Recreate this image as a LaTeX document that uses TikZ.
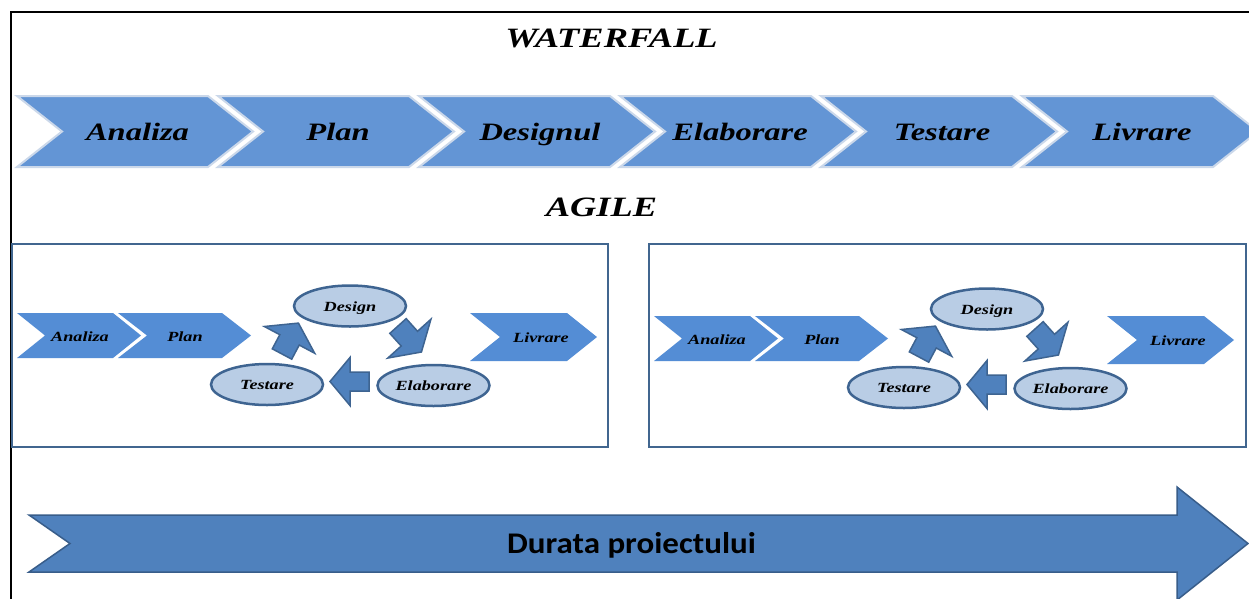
\documentclass[tikz,border=0pt]{standalone}
\usepackage{fontspec}
\newfontfamily\tfont[FakeStretch=1.3]{Liberation Serif}
\newfontfamily\cfont[FakeStretch=1.1]{Carlito}
\usetikzlibrary{shapes.geometric}

\definecolor{wfill}{RGB}{99,149,213}
\definecolor{wedge}{RGB}{203,216,234}
\definecolor{afill}{RGB}{84,141,213}
\definecolor{efill}{RGB}{185,205,229}
\definecolor{edraw}{RGB}{62,100,145}
\definecolor{bfill}{RGB}{79,129,189}
\definecolor{bdraw}{RGB}{56,93,138}
\definecolor{boxc}{RGB}{65,102,143}

% chevron: x0, ytop, ybot, body, depth, style
\newcommand{\mychev}[6]{%
  \path[#6] ({#1},{#2}) -- ({#1+#4},{#2}) -- ({#1+#4+#5},{(#2+#3)/2})
    -- ({#1+#4},{#3}) -- ({#1},{#3}) -- ({#1+#5},{(#2+#3)/2}) -- cycle;}
% block arrow: x, y (shaft end), angle, length, head length, head half width, shaft half width
\newcommand{\blockarrow}[7]{%
  \begin{scope}[shift={(#1,#2)},rotate=#3]
    \path[barrow] (0,{-#7}) -- ({#4-#5},{-#7}) -- ({#4-#5},{-#6}) -- ({#4},0)
      -- ({#4-#5},{#6}) -- ({#4-#5},{#7}) -- (0,{#7}) -- cycle;
  \end{scope}}

\tikzset{
  wchev/.style={fill=wfill, draw=wedge, line width=2},
  achev/.style={fill=afill},
  barrow/.style={fill=bfill, draw=edraw, line width=1.5, line join=miter},
  boxst/.style={draw=boxc, line width=2.5},
  title/.style={font=\tfont\bfseries\itshape\fontsize{28}{34}\selectfont, inner sep=0},
  wlbl/.style={font=\tfont\bfseries\itshape\fontsize{25}{30}\selectfont, anchor=base, inner sep=0},
  albl/.style={font=\tfont\bfseries\itshape\fontsize{14}{17}\selectfont, anchor=base, inner sep=0},
  ell/.style={ellipse, fill=efill, draw=edraw, line width=2.5, minimum width=112,
    minimum height=41, inner sep=0, text height=10, text depth=0,
    font=\tfont\bfseries\itshape\fontsize{14}{17}\selectfont},
  agile/.pic={
    \mychev{17}{313}{358}{96}{28}{achev}
    \mychev{118}{313}{358}{104}{29}{achev}
    \mychev{470}{313}{361}{97}{30}{achev}
    \node[albl] (-an) at (80,341) {Analiza};
    \node[albl] (-pl) at (185,341) {Plan};
    \node[albl] (-li) at (541,342) {Livrare};
    \node[ell] (-de) at (350,306) {Design};
    \node[ell] (-te) at (267,384.5) {Testare};
    \node[ell] (-el) at (433.5,385.5) {Elaborare};
    \blockarrow{282}{354}{62}{35}{19}{28.5}{11}
    \blockarrow{398}{326}{-48}{35}{18}{29}{11}
    \blockarrow{369}{381.5}{180}{39}{20}{24}{9.5}
  }
}

\begin{document}
\begin{tikzpicture}[x=1pt,y=-1pt]
  \useasboundingbox (0,0) rectangle (1249,598);
  \clip (0,0) rectangle (1249,598);
  \fill[white] (0,0) rectangle (1249,598);
  % page frame
  \draw[line width=2] (11,620) -- (11,12) -- (1260,12);
  % waterfall
  \node[title] (wf) at (611.5,38.5) {WATERFALL};
  \foreach \i in {0,...,5} {
    \mychev{17+201*\i}{96}{167}{191}{45}{wchev}
  }
  \node[wlbl] (w1) at (137.5,140) {Analiza};
  \node[wlbl] (w2) at (338,140) {Plan};
  \node[wlbl] (w3) at (540,140) {Designul};
  \node[wlbl] (w4) at (740,140) {Elaborare};
  \node[wlbl] (w5) at (942,140) {Testare};
  \node[wlbl] (w6) at (1142,140) {Livrare};
  % agile
  \node[title] (ag) at (601.5,207.5) {AGILE};
  \draw[boxst] (12,244) rectangle (608,447);
  \draw[boxst] (649,244) rectangle (1246,447);
  \pic (L) at (0,0) {agile};
  \pic (R) at (637,3) {agile};
  % duration arrow
  \path[fill=bfill, draw=bdraw, line width=1.5] (29,515) -- (1177,515) -- (1177,487)
    -- (1248,543.5) -- (1177,600) -- (1177,572) -- (29,572) -- (70,543.5) -- cycle;
  \node[anchor=base, inner sep=0, font=\cfont\bfseries\fontsize{30}{36}\selectfont]
    (dur) at (631.5,553) {Durata proiectului};
\end{tikzpicture}
\end{document}
